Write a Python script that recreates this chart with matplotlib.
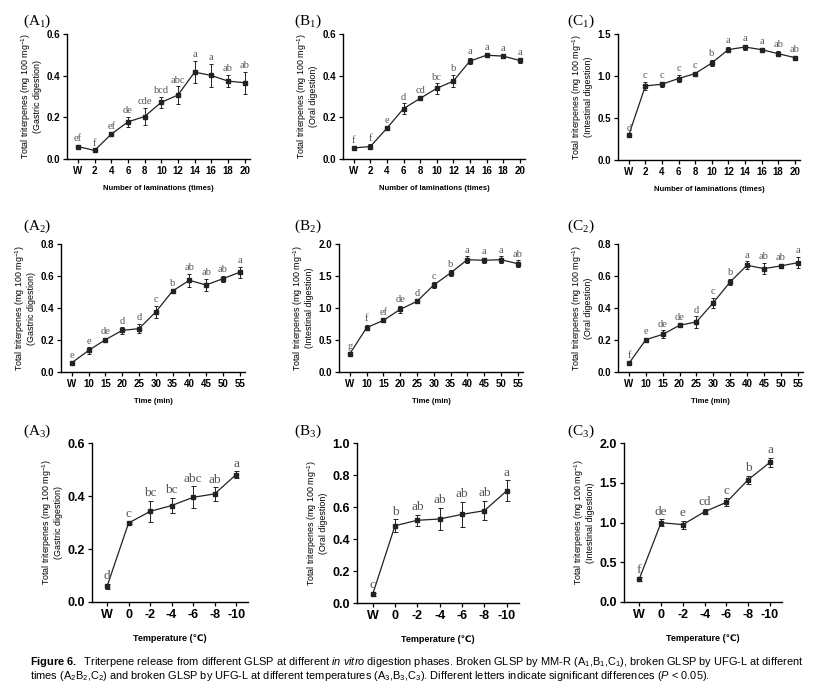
import matplotlib
matplotlib.use('Agg')
import matplotlib.pyplot as plt
from matplotlib import font_manager

plt.rcParams['mathtext.fontset'] = 'custom'
plt.rcParams['mathtext.rm'] = 'Liberation Sans'
plt.rcParams['mathtext.it'] = 'Liberation Sans:italic'
plt.rcParams['mathtext.bf'] = 'Liberation Sans:bold'
plt.rcParams['font.family'] = ['Liberation Sans', 'DejaVu Sans']

names = {f.name for f in font_manager.fontManager.ttflist}
CAP_FONT = 'Liberation Sans Narrow' if 'Liberation Sans Narrow' in names else 'Liberation Sans'

# ---------------- data ----------------
lam_labels = ['W', '2', '4', '6', '8', '10', '12', '14', '16', '18', '20']
time_labels = ['W', '10', '15', '20', '25', '30', '35', '40', '45', '50', '55']
temp_labels = ['W', '0', '-2', '-4', '-6', '-8', '-10']

a1_mean = [0.060, 0.041, 0.119, 0.178, 0.204, 0.272, 0.307, 0.417, 0.401, 0.374, 0.366]
a1_err = [0.008, 0.006, 0.006, 0.024, 0.040, 0.028, 0.042, 0.053, 0.055, 0.030, 0.053]
a1_let = ['ef', 'f', 'ef', 'de', 'cde', 'bcd', 'abc', 'a', 'a', 'ab', 'ab']

b1_mean = [0.053, 0.060, 0.148, 0.242, 0.291, 0.339, 0.374, 0.470, 0.498, 0.494, 0.473]
b1_err = [0.006, 0.010, 0.007, 0.025, 0.010, 0.025, 0.030, 0.015, 0.010, 0.008, 0.010]
b1_let = ['f', 'f', 'e', 'd', 'cd', 'bc', 'b', 'a', 'a', 'a', 'a']

c1_mean = [0.297, 0.882, 0.902, 0.970, 1.029, 1.155, 1.314, 1.345, 1.314, 1.266, 1.219]
c1_err = [0.010, 0.050, 0.030, 0.040, 0.020, 0.040, 0.030, 0.030, 0.025, 0.030, 0.025]
c1_let = ['d', 'c', 'c', 'c', 'c', 'b', 'a', 'a', 'a', 'ab', 'ab']

a2_mean = [0.058, 0.135, 0.202, 0.260, 0.271, 0.375, 0.506, 0.573, 0.544, 0.583, 0.623]
a2_err = [0.005, 0.020, 0.010, 0.020, 0.030, 0.040, 0.010, 0.040, 0.040, 0.020, 0.035]
a2_let = ['e', 'e', 'de', 'd', 'd', 'c', 'b', 'ab', 'ab', 'ab', 'a']

b2_mean = [0.286, 0.693, 0.807, 0.979, 1.104, 1.359, 1.547, 1.755, 1.745, 1.755, 1.693]
b2_err = [0.020, 0.040, 0.030, 0.050, 0.030, 0.040, 0.040, 0.050, 0.040, 0.050, 0.050]
b2_let = ['g', 'f', 'ef', 'de', 'd', 'c', 'b', 'a', 'a', 'a', 'ab']

c2_mean = [0.054, 0.202, 0.235, 0.292, 0.313, 0.433, 0.563, 0.667, 0.646, 0.663, 0.683]
c2_err = [0.010, 0.010, 0.025, 0.010, 0.035, 0.030, 0.020, 0.025, 0.035, 0.015, 0.035]
c2_let = ['f', 'e', 'de', 'de', 'd', 'c', 'b', 'a', 'ab', 'ab', 'a']

a3_mean = [0.059, 0.298, 0.342, 0.364, 0.395, 0.408, 0.481]
a3_err = [0.010, 0.005, 0.040, 0.030, 0.042, 0.025, 0.012]
a3_let = ['d', 'c', 'bc', 'bc', 'abc', 'ab', 'a']

b3_mean = [0.054, 0.483, 0.517, 0.525, 0.554, 0.577, 0.701]
b3_err = [0.010, 0.040, 0.035, 0.070, 0.080, 0.060, 0.065]
b3_let = ['c', 'b', 'ab', 'ab', 'ab', 'ab', 'a']

c3_mean = [0.289, 0.998, 0.973, 1.136, 1.254, 1.539, 1.757]
c3_err = [0.020, 0.040, 0.050, 0.030, 0.050, 0.050, 0.060]
c3_let = ['f', 'de', 'e', 'cd', 'c', 'b', 'a']

# ---------------- layout ----------------
W, H = 830, 698
fig = plt.figure(figsize=(W / 100, H / 100), dpi=100)


def rect(l, r, t, b):
    return [l / W, 1 - b / H, (r - l) / W, (b - t) / H]


panels = [
    ('A', '1', rect(67, 250, 34, 159), a1_mean, a1_err, a1_let, lam_labels, 0.6, 0.2, 'Gastric', 'Number of laminations (times)', 1, (23, 25)),
    ('B', '1', rect(343, 525, 34, 159), b1_mean, b1_err, b1_let, lam_labels, 0.6, 0.2, 'Oral', 'Number of laminations (times)', 1, (294, 25)),
    ('C', '1', rect(618, 800, 34, 160), c1_mean, c1_err, c1_let, lam_labels, 1.5, 0.5, 'Intestinal', 'Number of laminations (times)', 1, (567, 25)),
    ('A', '2', rect(61, 245, 244, 372), a2_mean, a2_err, a2_let, time_labels, 0.8, 0.2, 'Gastric', 'Time (min)', 2, (23, 230)),
    ('B', '2', rect(339, 523, 244, 372), b2_mean, b2_err, b2_let, time_labels, 2.0, 0.5, 'Intestinal', 'Time (min)', 2, (294, 230)),
    ('C', '2', rect(618, 803, 244, 372), c2_mean, c2_err, c2_let, time_labels, 0.8, 0.2, 'Oral', 'Time (min)', 2, (567, 230)),
    ('A', '3', rect(92, 248, 443, 602), a3_mean, a3_err, a3_let, temp_labels, 0.6, 0.2, 'Gastric', 'Temperature (\u2103)', 3, (23, 435)),
    ('B', '3', rect(357, 519, 443, 603), b3_mean, b3_err, b3_let, temp_labels, 1.0, 0.2, 'Oral', 'Temperature (\u2103)', 3, (294, 435)),
    ('C', '3', rect(624, 782, 443, 602), c3_mean, c3_err, c3_let, temp_labels, 2.0, 0.5, 'Intestinal', 'Temperature (\u2103)', 3, (567, 435)),
]

for (L, sub, r, mean, err, lets, xl, ymax, ystep, phase, xlab, row, lpos) in panels:
    ax = fig.add_axes(r)
    n = len(mean)
    x = list(range(n))
    big = row == 3
    tfs = 9 if big else 7
    lfs = 9.5 if big else 7.5
    ax.errorbar(x, mean, yerr=err, fmt='-s', color='#222222', ms=3 if big else 2.5,
                lw=0.9, elinewidth=0.7, capsize=1.8 if big else 1.4, capthick=0.7)
    for xi, m, e, t in zip(x, mean, err, lets):
        ax.annotate(t, (xi, m + e), xytext=(0, 1.2), textcoords='offset points',
                    ha='center', va='bottom', fontsize=lfs, color='#555555',
                    family='Liberation Serif')
    ax.set_ylim(0, ymax)
    if big:
        ax.set_xlim(-0.7, n - 1 + 0.55)
    else:
        ax.set_xlim(-0.65, n - 1 + 0.32)
    nt = int(round(ymax / ystep))
    yt = [i * ystep for i in range(nt + 1)]
    ax.set_yticks(yt)
    ax.set_yticklabels(['%.1f' % v for v in yt], fontweight='bold', fontsize=tfs)
    ax.set_xticks(x)
    ax.set_xticklabels(xl, fontweight='bold', fontsize=tfs)
    for s in ['top', 'right']:
        ax.spines[s].set_visible(False)
    for s in ['left', 'bottom']:
        ax.spines[s].set_linewidth(1.0)
    ax.tick_params(direction='out', length=3, width=0.9, pad=2)
    ax.set_ylabel('Total triterpenes (mg 100 mg$^{-1}$)\n(%s digestion)' % phase,
                  fontsize=6.4, labelpad=3, linespacing=1.1)
    ax.set_xlabel(xlab, fontsize=6.5 if big else 5.5, fontweight='bold',
                  labelpad=9.5 if big else 6.5)
    fig.text(lpos[0] / W, 1 - lpos[1] / H, r'(%s$_{\mathregular{%s}}$)' % (L, sub),
             fontsize=11, family='Liberation Serif', ha='left', va='baseline')

cap1 = (r'$\mathbf{Figure\ 6.}$  Triterpene release from different GLSP at different '
        r'$\mathit{in\ vitro}$ digestion phases. Broken GLSP by MM-R (A$_1$,B$_1$,C$_1$), '
        r'broken GLSP by UFG-L at different')
cap2 = (r'times (A$_2$B$_2$,C$_2$) and broken GLSP by UFG-L at different temperatures '
        r'(A$_3$,B$_3$,C$_3$). Different letters indicate significant differences ($P$ < 0.05).')
fig.text(30 / W, 1 - 665 / H, cap1, fontsize=7.9, family=CAP_FONT, va='baseline')
fig.text(30 / W, 1 - 679 / H, cap2, fontsize=7.9, family=CAP_FONT, va='baseline')

fig.savefig('out.png', dpi=100)
